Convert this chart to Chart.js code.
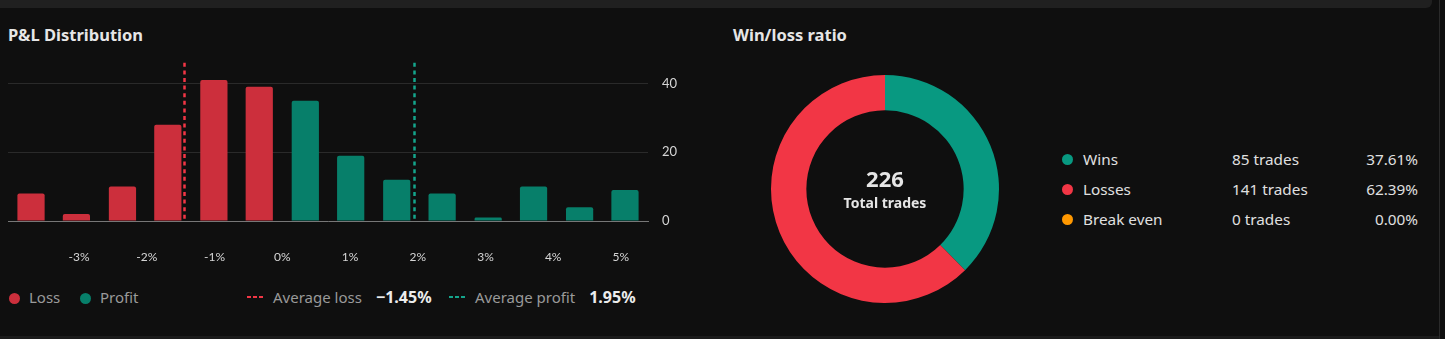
<!DOCTYPE html>
<html>
<head>
<meta charset="utf-8">
<script src="https://cdn.jsdelivr.net/npm/chart.js@4"></script>
<style>
  html, body { margin: 0; padding: 0; }
  body {
    width: 1445px; height: 339px; background: #0f0f0f; position: relative; overflow: hidden;
    font-family: "Noto Sans", Lato, sans-serif; color: #dcdcdc;
  }
  .topband { position: absolute; left: 0; top: 0; width: 1432px; height: 8px; background: #202020; border-bottom-right-radius: 6px; }
  .rightline { position: absolute; left: 1439px; top: 0; width: 1px; height: 339px; background: #2a2a2a; }
  .bottomband { position: absolute; left: 0; top: 336px; width: 1439px; height: 3px; background: #1b1b1b; }
  .title { position: absolute; top: 23px; font-size: 16.5px; font-weight: 700; color: #e6e6e6; }
  #barWrap { position: absolute; left: 0; top: 41px; width: 700px; height: 239px; }
  #donutWrap { position: absolute; left: 765px; top: 69px; width: 240px; height: 240px; }
  .center { position: absolute; left: 785px; width: 200px; text-align: center; font-weight: 700; color: #e6e6e6; }
  .legend { position: absolute; top: 286px; font-size: 15px; line-height: 22px; color: #9a9a9a; white-space: nowrap; }
  .legend .dot { display: inline-block; width: 11px; height: 11px; border-radius: 50%; vertical-align: -1px; margin-right: 9px; }
  .legend b { color: #ececec; margin-left: 14px; font-size: 16px; }
  .dash { display: inline-block; width: 16px; height: 2px; margin-right: 10px; vertical-align: 5px; }
  .wl { position: absolute; font-size: 15.3px; line-height: 20px; color: #e0e0e0; white-space: nowrap; }
  .wl .dot { position: absolute; left: -21px; top: 5px; width: 11px; height: 11px; border-radius: 50%; }
</style>
</head>
<body>
<div class="topband"></div>
<div class="rightline"></div>
<div class="bottomband"></div>

<div class="title" style="left:8px">P&amp;L Distribution</div>
<div class="title" style="left:733px">Win/loss ratio</div>

<div id="barWrap"><canvas id="pnlChart"></canvas></div>
<div id="donutWrap"><canvas id="ratioChart"></canvas></div>

<div class="center" style="top:163px;font-size:22px">226</div>
<div class="center" style="top:193px;font-size:14px">Total trades</div>

<div id="pnlLegend"></div>
<div id="ratioLegend"></div>

<script>
// histogram bins (percent, bin centers) and trade counts
const binCenters = [-3.71, -3.04, -2.36, -1.69, -1.01, -0.34, 0.34, 1.01, 1.69, 2.36, 3.04, 3.71, 4.39, 5.06];
const binCounts = [8, 2, 10, 28, 41, 39, 35, 19, 12, 8, 1, 10, 4, 9];
const xTickValues = [-3, -2, -1, 0, 1, 2, 3, 4, 5];
const yTickValues = [0, 20, 40];
const avgLoss = -1.45;
const avgProfit = 1.95;

// win / loss ratio
const ratioLabels = ["Wins", "Losses", "Break even"];
const ratioTrades = [85, 141, 0];
const ratioPercent = ["37.61%", "62.39%", "0.00%"];
const ratioColors = ["#089981", "#f23645", "#ff9800"];

const LOSS_BAR = "#cc2f3c";
const PROFIT_BAR = "#077f6a";
const FONT = "Lato, 'Noto Sans', sans-serif";

const avgLines = {
  id: "avgLines",
  afterDatasetsDraw(chart) {
    const { ctx, chartArea, scales } = chart;
    [[avgLoss, "#f23645"], [avgProfit, "#14a58c"]].forEach(([v, color]) => {
      const x = Math.round(scales.x.getPixelForValue(v)) + 0.5;
      ctx.save();
      ctx.strokeStyle = color;
      ctx.lineWidth = 2.5;
      ctx.setLineDash([4, 3.6]);
      ctx.beginPath();
      ctx.moveTo(x, chartArea.top);
      ctx.lineTo(x, chartArea.bottom);
      ctx.stroke();
      ctx.restore();
    });
  }
};

new Chart(document.getElementById("pnlChart"), {
  type: "bar",
  data: {
    datasets: [{
      data: binCenters.map((x, i) => ({ x: x, y: binCounts[i] })),
      backgroundColor: binCenters.map(x => x < 0 ? LOSS_BAR : PROFIT_BAR),
      borderRadius: { topLeft: 2, topRight: 2 },
      borderSkipped: "bottom",
      barPercentage: 0.6,
      categoryPercentage: 1
    }]
  },
  options: {
    responsive: true,
    maintainAspectRatio: false,
    animation: false,
    layout: { padding: { left: 8, top: 4, right: 0, bottom: 0 } },
    plugins: { legend: { display: false }, tooltip: { enabled: false } },
    scales: {
      x: {
        type: "linear",
        offset: false,
        min: -4.05,
        max: 5.4,
        afterBuildTicks: s => { s.ticks = xTickValues.map(v => ({ value: v })); },
        afterFit: s => { s.height = 59; },
        grid: { display: false },
        border: { color: "#777", width: 1 },
        ticks: {
          color: "#d6d6d6",
          padding: 21,
          font: { family: FONT, size: 12 },
          callback: v => v + "%"
        }
      },
      y: {
        position: "right",
        min: 0,
        max: 46,
        afterBuildTicks: s => { s.ticks = yTickValues.map(v => ({ value: v })); },
        afterFit: s => { s.width = 52; },
        grid: { color: "#2a2a2a", drawTicks: false },
        border: { display: false },
        ticks: {
          color: "#d6d6d6",
          padding: 14,
          font: { family: FONT, size: 13 }
        }
      }
    }
  },
  plugins: [avgLines]
});

new Chart(document.getElementById("ratioChart"), {
  type: "doughnut",
  data: {
    labels: ratioLabels,
    datasets: [{
      data: ratioTrades,
      backgroundColor: ratioColors,
      borderWidth: 0
    }]
  },
  options: {
    responsive: true,
    maintainAspectRatio: false,
    animation: false,
    cutout: "69%",
    layout: { padding: 6 },
    plugins: { legend: { display: false }, tooltip: { enabled: false } }
  }
});

// bottom legend of the P&L chart
const pnlLegend = document.getElementById("pnlLegend");
pnlLegend.innerHTML = `
  <div class="legend" style="left:9px"><span class="dot" style="background:${LOSS_BAR}"></span>Loss</div>
  <div class="legend" style="left:80px"><span class="dot" style="background:${PROFIT_BAR}"></span>Profit</div>
  <div class="legend" style="left:247px"><span class="dash" style="background:repeating-linear-gradient(90deg,#f23645 0 4px,transparent 4px 6px)"></span>Average loss<b>\u22121.45%</b></div>
  <div class="legend" style="left:449px"><span class="dash" style="background:repeating-linear-gradient(90deg,#14a58c 0 4px,transparent 4px 6px)"></span>Average profit<b>1.95%</b></div>
`;

// right legend of the donut
const ratioLegend = document.getElementById("ratioLegend");
ratioLabels.forEach((name, i) => {
  const top = 149 + i * 30;
  ratioLegend.innerHTML += `
    <div class="wl" style="left:1083px;top:${top}px"><span class="dot" style="background:${ratioColors[i]}"></span>${name}</div>
    <div class="wl" style="left:1232px;top:${top}px">${ratioTrades[i]} trades</div>
    <div class="wl" style="right:${1445 - 1418}px;top:${top}px">${ratioPercent[i]}</div>
  `;
});
</script>
</body>
</html>
